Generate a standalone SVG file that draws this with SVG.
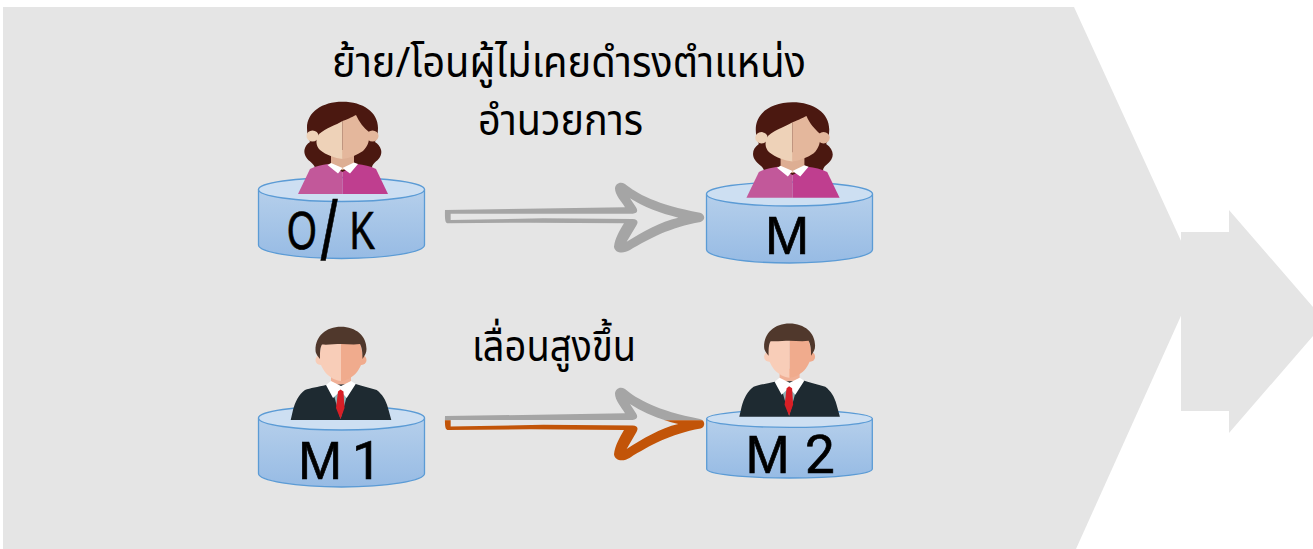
<svg xmlns="http://www.w3.org/2000/svg" width="1313" height="549" viewBox="0 0 1313 549">
<defs>
<linearGradient id="cyl" x1="0" y1="0" x2="0" y2="1"><stop offset="0" stop-color="#b5cfeb"/><stop offset="1" stop-color="#97bbe4"/></linearGradient>
<clipPath id="upper"><rect x="0" y="0" width="870" height="132"/></clipPath>
<clipPath id="lower"><rect x="0" y="132" width="870" height="160"/></clipPath>
<path id="sketch" fill-rule="evenodd" d="M45,120 L585,112 C575,95 555,75 555,55 C556,42 570,33 585,42 C620,70 680,105 810,128 C825,132 828,150 812,156 C720,172 660,205 600,240 C580,252 555,250 552,230 C555,205 570,180 582,160 L300,158 L52,160 C46,158 44,150 45,120 Z M62,131 L608,131 C622,130 625,122 618,112 L600,85 C640,110 690,130 745,143 C690,155 640,185 590,215 L620,165 C626,155 622,147 608,147 L340,145 L62,150 Z"/>
<g id="can">
<path d="M258.5,190 V245 C258.5,252 295,258.5 341.5,258.5 C388,258.5 424.5,252 424.5,245 V190 Z" fill="url(#cyl)" stroke="#5b9bd5" stroke-width="1.3"/>
<ellipse cx="341.5" cy="189.5" rx="83" ry="12" fill="#cddff2" stroke="#5b9bd5" stroke-width="1.3"/>
</g>
<g id="woman">
<path d="M342.5,101.7 C322,101.7 307,112 307,128 C307,133 308,138 310,142 C304,146 303,152 306,157 C309,162 314,163 315,168 L312,172 H376 L372,168 C372,163 377,162 380,157 C383,152 381,146 375,142 C377,138 378,133 378,128 C378,112 363,101.7 342.5,101.7 Z" fill="#4b1810"/>
<ellipse cx="312.5" cy="136" rx="6" ry="5.5" fill="#eed2b8"/>
<ellipse cx="372.5" cy="136" rx="6" ry="5.5" fill="#e4b79c"/>
<path d="M331,150 H354 V166 L342.5,170 L331,166 Z" fill="#ddae93"/>
<path d="M342.5,121 C336,125 326,128 319,134 C315,140 316,146 320,150 C326,155 335,158 342.5,159 Z" fill="#eed2b8"/>
<path d="M342.5,121 C346,120 352,117 356,115 C359,122 364,128 369,132 C370,140 368,146 363,151 C357,155 350,158 342.5,159 Z" fill="#e4b79c"/>
<path d="M310,169 C316,166 322,165 328,164 L342.5,172 V194 H298 Z" fill="#c2589a"/>
<path d="M342.5,172 L357,164 C364,165 370,166 376,169 L388,194 H342.5 Z" fill="#bf3e8f"/>
<path d="M327.5,165 L331,163 L342.5,168 L354,162.5 L358,164 L350,173.5 L342.5,168 L338,173.5 Z" fill="#fff"/>
</g>
<g id="man">
<circle cx="320.5" cy="360" r="5" fill="#f8cdb8"/>
<circle cx="361.5" cy="360" r="5" fill="#f0ab8d"/>
<path d="M331,372 H351 V390 H331 Z" fill="#f0b096"/>
<path d="M341,342 H322 L319,356 C320,370 330,380 341,381 Z" fill="#f8cdb8"/>
<path d="M341,342 H360 L363,356 C362,370 352,380 341,381 Z" fill="#f0ab8d"/>
<path d="M341,326.7 C326,326.7 315.5,336 315.5,350 C315.5,354 318,356 320,359 C320,352 320,348 322,344.5 C328,345 335,344 341,344 C347,344 354,345 360,344 C362,348 362.5,352 362.5,359 C365,355 366.5,353 366.5,349 C366.5,336 356,326.7 341,326.7 Z" fill="#50382c"/>
<path d="M326,385 C318,387 310,388 305,390 C299,394 295,402 293,410 L290.7,420 H391.3 L388,408 C386,400 382,394 376.7,390 C370,388 362,386 355.7,384 Z" fill="#1e2a31"/>
<path d="M333,392 H348 L340.5,419 Z" fill="#8fb5b8"/>
<path d="M326,385 L331,381 L341,386 L351,381 L355.7,384 L346.7,398 L340.5,391 L333,398 Z" fill="#fff"/>
<path d="M338,391.5 L340.5,389.5 L343.5,391.5 L344.5,408 L340.5,419 L336,408 Z" fill="#d81f26"/>
</g>
</defs>
<style>
.bg{fill:#e5e5e5}
.th{font-family:"Noto Sans Thai","Noto Sans","DejaVu Sans",sans-serif;font-size:42px;fill:#000;text-anchor:start}
.lbl{font-family:"Liberation Sans",Arial,sans-serif;font-size:53px;fill:#000;stroke:#000;stroke-width:.7}
.alt{font-family:Roboto,"Liberation Sans",sans-serif}
</style>
<g id="background"><polygon class="bg" points="3,7 1074,7 1198,278 1076,549 3,549"/></g>
<g id="next-arrow"><polygon class="bg" points="1181,232 1229,232 1229,210 1313,307 1313,336 1229,433 1229,411 1181,411"/></g>
<g id="connectors">
<g id="connector-top" transform="translate(430,170) scale(0.3333)"><use href="#sketch" fill="#a5a5a5"/></g>
<g id="connector-bottom" transform="translate(430,374.5) scale(0.3333,0.3467)">
<g clip-path="url(#upper)"><use href="#sketch" fill="#a5a5a5"/></g>
<g clip-path="url(#lower)"><use href="#sketch" fill="#c25408"/></g>
</g>
</g>
<g id="node-ok"><use href="#can"/><use href="#woman"/><text class="lbl" transform="translate(287,249) scale(.72,1)"><tspan x="0">O</tspan><tspan x="47" y="11" font-size="84">/</tspan><tspan x="87" y="0">K</tspan></text></g>
<g id="node-m"><use href="#can" transform="translate(448,4.5)"/><use href="#woman" transform="translate(792.3,102.3) scale(1.035) translate(-342.3,-101.7)"/><text class="lbl" x="765" y="254">M</text></g>
<g id="node-m1"><use href="#can" transform="translate(0,228.5)"/><use href="#man"/><text class="lbl" y="479"><tspan x="298">M</tspan><tspan x="352" class="alt"> </tspan><tspan x="352" class="alt">1</tspan></text></g>
<g id="node-m2">
<path d="M706.7,419 V469 C706.7,474 743,478 789.5,478 C836,478 872.3,474 872.3,469 V419 Z" fill="url(#cyl)" stroke="#5b9bd5" stroke-width="1.3"/>
<ellipse cx="789.5" cy="418.7" rx="82.8" ry="8.7" fill="#cddff2" stroke="#5b9bd5" stroke-width="1.3"/>
<use href="#man" transform="translate(448.6,-3.3)"/>
<text class="lbl" y="473"><tspan x="745.5">M</tspan><tspan x="805" class="alt"> </tspan><tspan x="805" class="alt">2</tspan></text></g>
<g id="labels">
<text class="th" x="332" y="77" textLength="474" lengthAdjust="spacingAndGlyphs">ย้าย/โอนผู้ไม่เคยดำรงตำแหน่ง</text>
<text class="th" x="478" y="135" textLength="165" lengthAdjust="spacingAndGlyphs">อำนวยการ</text>
<text class="th" x="472" y="361" textLength="164" lengthAdjust="spacingAndGlyphs">เลื่อนสูงขึ้น</text>
</g>
</svg>
